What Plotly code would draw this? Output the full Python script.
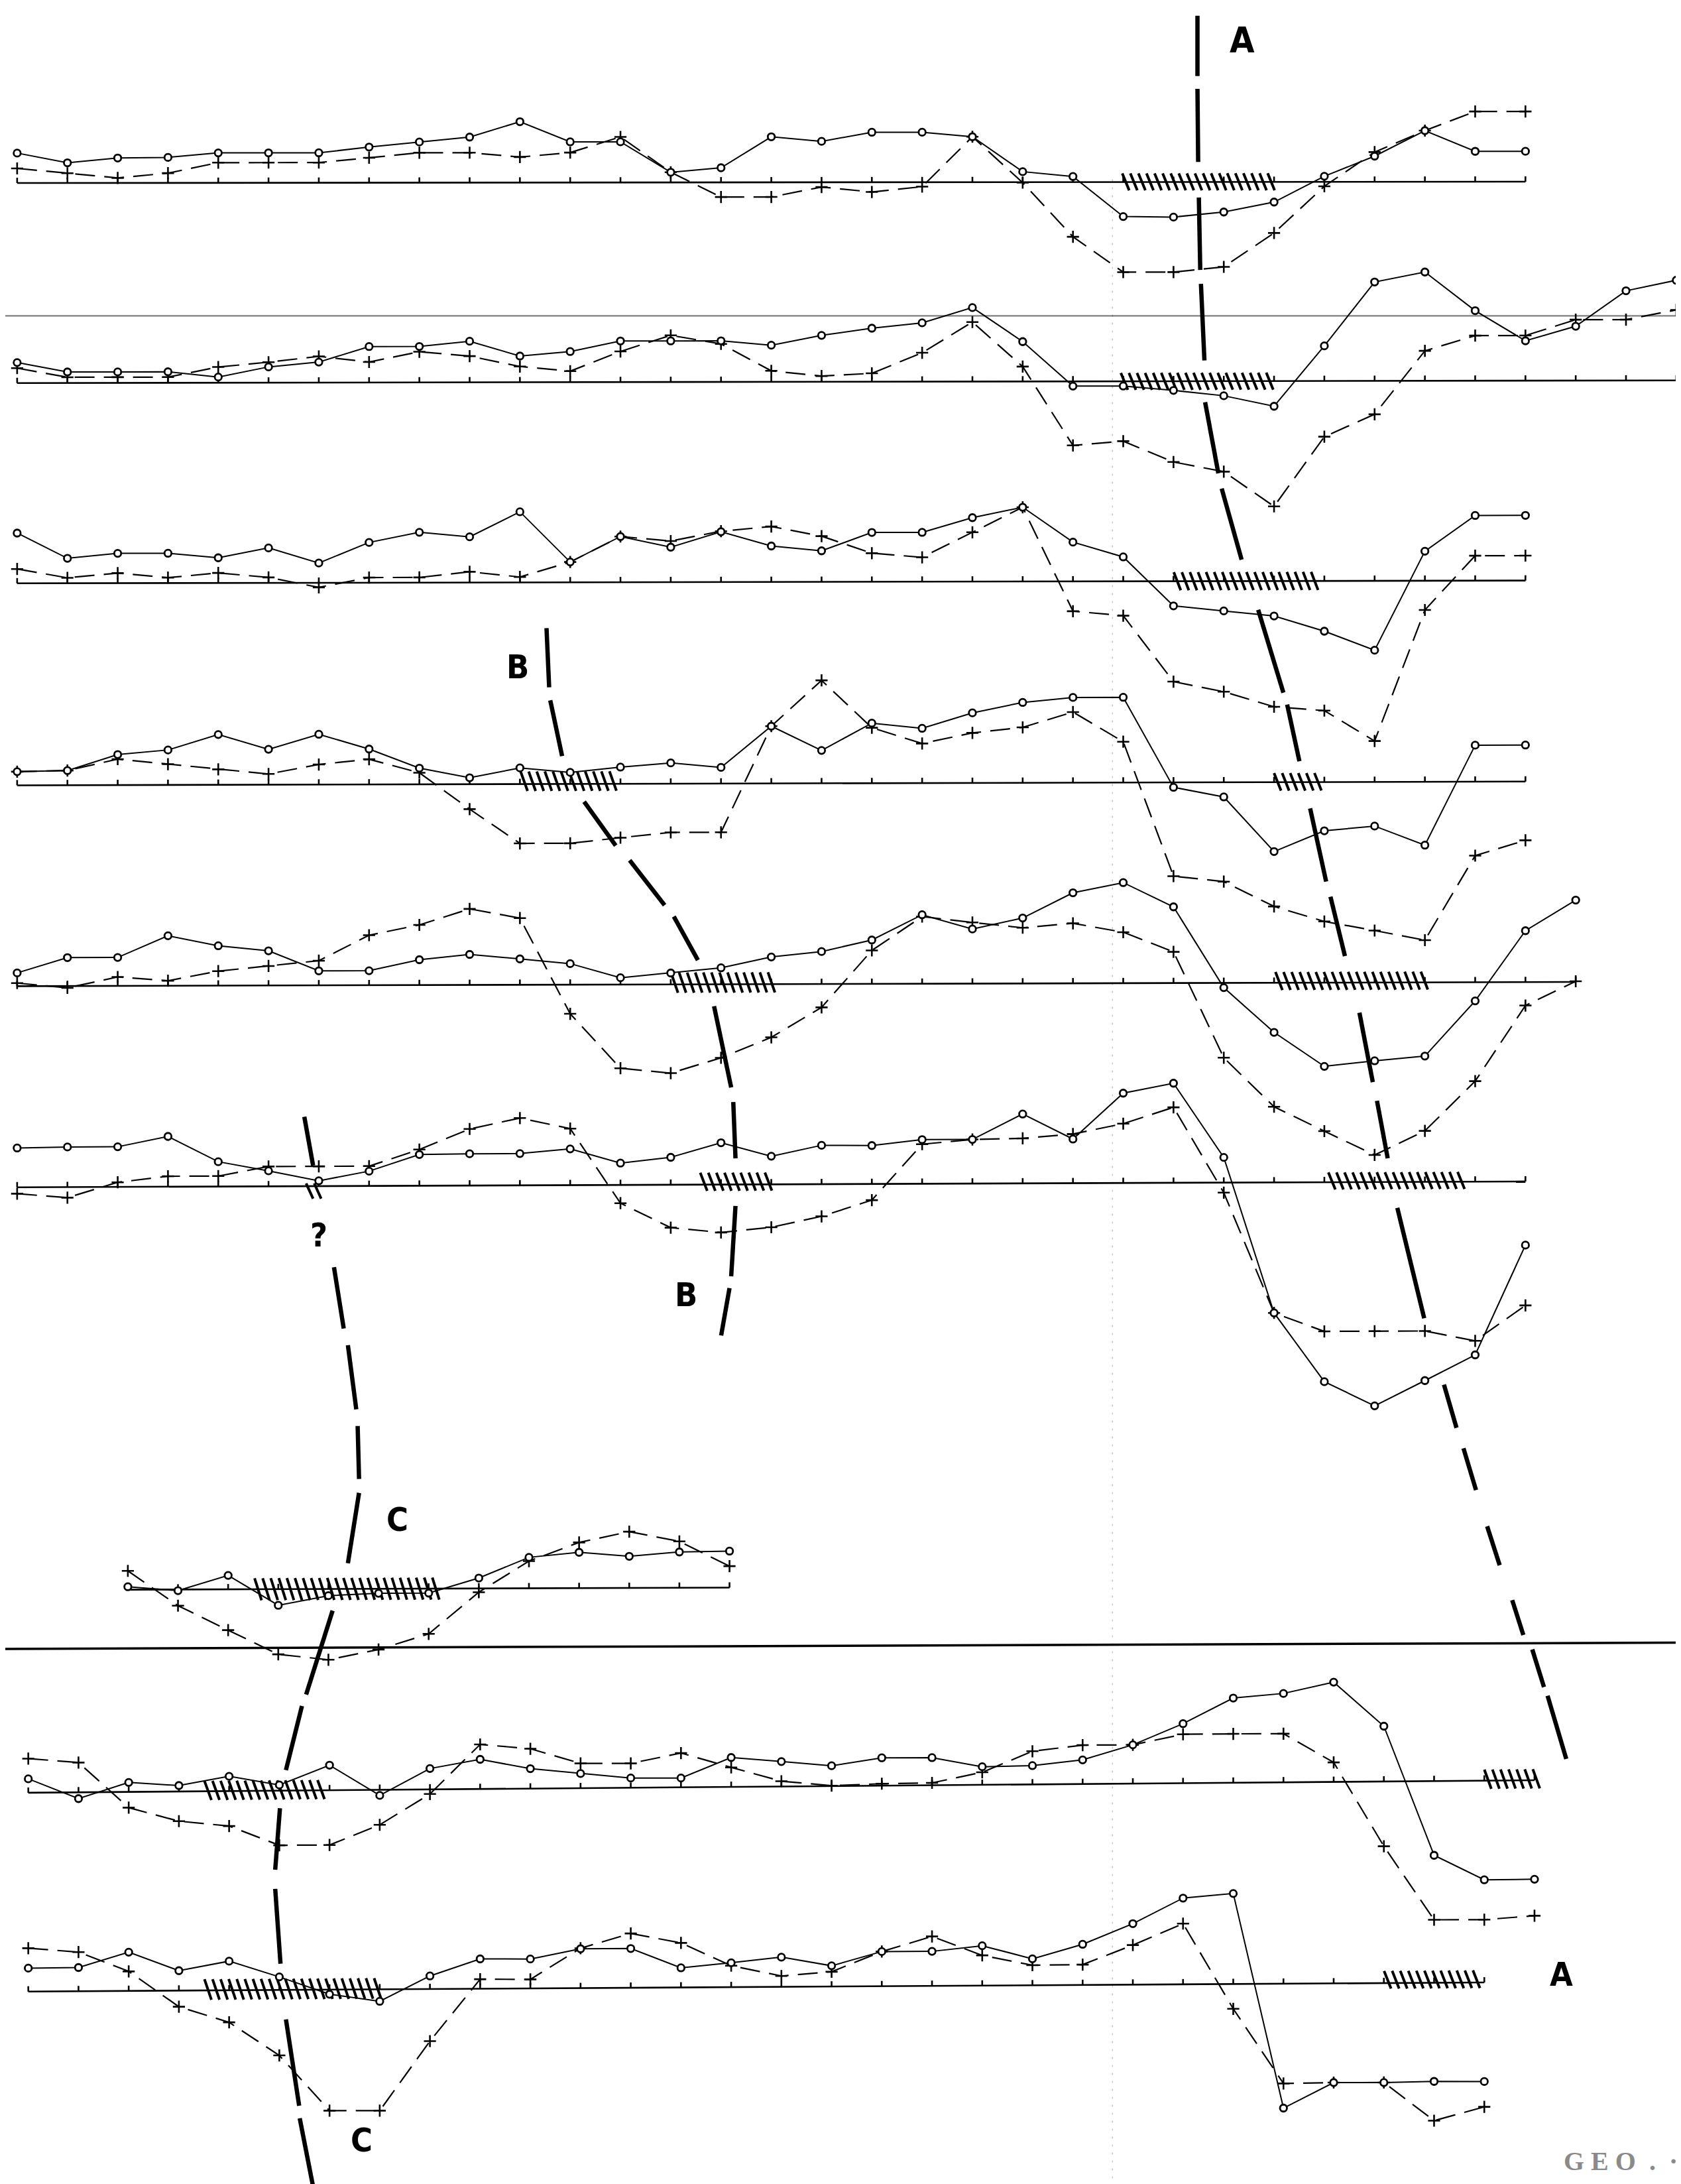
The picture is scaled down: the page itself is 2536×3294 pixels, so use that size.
import plotly.graph_objects as go

# ---------------- profile values (deviation above each profile's baseline, + = up) ----------------
P1_SOLID = [21.5, 14.5, 17.9, 18.3, 21.5, 21.5, 21.5, 25.6, 29.2, 32.7, 43.7, 29.2, 29.2, 7.3, 10.5, 32.7,
            29.4, 35.9, 35.9, 32.6, 7.5, 4.0, -24.8, -25.2, -21.6, -14.5, 4.0, 18.4, 36.7, 21.8, 21.8]
P1_DASH = [10.5, 7.0, 3.6, 7.0, 14.5, 14.5, 14.5, 17.9, 21.5, 21.5, 18.3, 21.5, 32.7, 7.3, -10.5, -10.5,
           -3.4, -7.0, -3.2, 32.6, -0.4, -39.3, -64.7, -64.7, -61.0, -36.7, -3.2, 21.3, 36.7, 50.4, 50.4]

P2_SOLID = [14.7, 7.9, 7.9, 7.9, 4.1, 11.3, 14.7, 25.8, 25.8, 29.5, 18.8, 22.0, 29.5, 29.5, 29.5, 26.3,
            33.3, 38.4, 42.2, 53.1, 28.6, -3.4, -3.4, -6.6, -10.5, -18.1, 25.2, 71.0, 78.1, 50.3, 28.6,
            39.0, 64.4, 71.9]
P2_DASH = [10.7, 4.1, 4.1, 4.1, 11.3, 14.7, 18.8, 14.7, 22.0, 18.8, 11.3, 7.9, 22.0, 33.5, 27.3, 7.9,
           4.1, 6.0, 20.7, 42.7, 10.7, -46.0, -43.0, -58.0, -65.0, -90.0, -40.0, -24.0, 21.5, 32.4, 32.4,
           43.7, 43.7, 50.6]

P3_SOLID = [36.1, 17.9, 21.4, 21.4, 18.1, 25.1, 14.2, 28.9, 36.1, 32.8, 50.7, 14.6, 32.8, 25.1, 36.1, 25.8,
            22.3, 35.4, 35.4, 45.9, 53.3, 28.2, 17.5, -17.7, -21.4, -25.1, -36.1, -49.8, 21.2, 46.8, 46.8]
P3_DASH = [10.3, 3.9, 7.2, 3.9, 7.2, 3.9, -3.3, 3.7, 3.7, 7.7, 3.9, 14.6, 32.8, 29.5, 36.5, 39.8,
           32.8, 20.5, 17.5, 35.4, 53.3, -21.4, -24.7, -72.1, -79.4, -90.3, -93.1, -115.0, -21.0, 17.9, 17.9]

P4_SOLID = [9.8, 10.5, 21.9, 25.1, 36.1, 25.4, 36.1, 25.4, 11.6, 4.6, 11.6, 8.3, 12.0, 14.9, 11.6, 41.1,
            23.6, 43.1, 39.3, 50.3, 57.7, 61.2, 61.2, -3.5, -10.5, -49.8, -35.0, -31.7, -45.5, 26.2, 26.2]
P4_DASH = [9.8, 10.5, 18.6, 14.9, 11.1, 7.7, 14.4, 18.1, 8.3, -17.9, -42.6, -42.6, -38.7, -35.0, -35.0, 41.1,
           73.9, 39.8, 28.4, 35.9, 39.8, 50.7, 29.3, -67.3, -71.3, -89.2, -100.1, -106.7, -113.7, -53.1, -42.2]

P5_SOLID = [9.5, 20.4, 20.4, 35.9, 28.6, 24.9, 10.4, 10.4, 18.2, 21.9, 18.6, 15.1, 4.9, 8.2, 11.8, 19.5,
            23.3, 31.5, 49.5, 39.2, 47.0, 65.0, 72.2, 54.7, -3.4, -35.6, -60.1, -56.2, -52.9, -13.4, 36.9, 58.8]
P5_DASH = [2.2, -1.3, 6.4, 3.6, 10.4, 14.0, 17.7, 35.9, 43.2, 54.6, 47.9, -20.9, -60.1, -63.7, -52.8, -38.2,
           -16.8, 24.0, 48.2, 43.9, 40.0, 43.1, 36.6, 22.4, -53.7, -89.0, -106.6, -123.8, -106.6, -71.0, -16.8, 0.5]

P6_SOLID = [28.2, 28.8, 28.8, 36.1, 17.8, 11.1, 3.8, 10.6, 22.4, 22.8, 22.8, 26.0, 15.7, 19.7, 30.0, 20.2,
            27.9, 27.6, 31.7, 31.7, 49.8, 31.7, 64.5, 71.5, 18.1, -93.7, -143.2, -160.7, -142.7, -124.4, -45.7]
P6_DASH = [-4.6, -7.6, 3.3, 7.5, 7.5, 14.2, 14.2, 14.2, 26.0, 40.6, 48.3, 40.6, -13.1, -30.8, -34.4, -30.8,
           -23.1, -11.6, 28.4, 31.7, 32.3, 35.3, 42.6, 54.2, -7.2, -93.7, -107.1, -107.1, -107.1, -114.3, -89.0]

P7_SOLID = [2.1, -0.8, 10.0, -11.6, -4.8, -3.2, -3.2, 7.5, 22.2, 25.7, 22.7, 25.7, 26.2]
P7_DASH = [13.5, -11.6, -29.3, -46.8, -50.8, -43.6, -32.5, -2.7, 19.5, 32.8, 40.4, 33.3, 15.4]

P8_SOLID = [10.0, -4.5, 6.8, 4.3, 10.6, 4.1, 18.0, -4.0, 15.0, 21.3, 14.3, 10.5, 7.0, 6.7, 21.1, 17.9,
            14.6, 20.0, 19.8, 13.0, 13.5, 17.3, 27.8, 42.7, 60.8, 63.8, 71.6, 39.7, -53.3, -71.2, -71.1]
P8_DASH = [24.5, 21.4, -11.3, -21.3, -25.1, -39.2, -39.3, -25.1, -3.3, 32.0, 28.6, 17.8, 17.5, 24.6, 14.0, 3.8,
           0.3, 1.4, 1.7, 9.0, 23.8, 27.9, 27.8, 35.1, 35.1, 34.9, 14.0, -46.5, -99.6, -99.8, -97.3]

P9_SOLID = [16.8, 17.0, 27.8, 14.3, 20.9, 9.4, -3.3, -8.6, 9.4, 21.4, 21.1, 28.2, 28.2, 14.1, 17.5, 21.3,
            14.9, 24.9, 24.8, 28.6, 19.0, 29.2, 43.8, 61.9, 65.0, -89.3, -71.2, -71.4, -70.8, -71.1]
P9_DASH = [31.1, 28.1, 14.0, -11.6, -23.0, -47.0, -86.9, -87.1, -37.4, 6.8, 6.5, 28.6, 39.0, 32.0, 15.4, 7.8,
           10.6, 24.9, 35.5, 21.7, 14.4, 14.6, 28.4, 43.6, -17.8, -71.6, -71.2, -71.4, -99.0, -89.3]

SOLID = [P1_SOLID, P2_SOLID, P3_SOLID, P4_SOLID, P5_SOLID, P6_SOLID, P7_SOLID, P8_SOLID, P9_SOLID]
DASHED = [P1_DASH, P2_DASH, P3_DASH, P4_DASH, P5_DASH, P6_DASH, P7_DASH, P8_DASH, P9_DASH]

# ---------------- sheet layout (sheet units: 1207 x 1568) ----------------
ROW_X0 = [8.5, 8.5, 8.5, 8.5, 8.5, 8.5, 88.0, 16.5, 16.5]
ROW_DX = [36.1, 36.1, 36.1, 36.1, 36.1, 36.1, 36.0, 36.05, 36.05]
ROW_BASE = [(127.6, 126.6), (271.2, 269.3), (415.0, 413.0), (560.0, 557.3), (704.2, 701.2),
            (848.6, 844.4), (1137.5, 1136.0), (1283.3, 1274.3), (1426.0, 1419.5)]

# hatched intervals: (row, x start, x end, height above, height below)
HATCH = [(0, 802, 911, 6.2, 6.0), (1, 801, 911, 6.0, 6.2), (2, 839, 946, 6.5, 6.5),
         (3, 370, 443, 9.0, 5.0), (3, 911, 947, 6.5, 6.1), (4, 478, 553, 8.5, 6.0),
         (4, 912, 1021, 7.7, 5.2), (5, 216, 229, 2.0, 9.0), (5, 499, 553, 8.5, 4.5),
         (5, 950, 1050, 7.0, 5.2), (6, 179, 315, 7.9, 7.9), (7, 143, 233, 7.4, 6.3),
         (7, 1062, 1102, 7.9, 5.9), (8, 143, 270, 8.0, 6.7), (8, 990, 1061, 8.7, 4.0)]

# correlation lines (broken heavy dashes): segments (x1, y1, x2, y2)
LINE_A = [(856, 7.5, 856, 50.8), (856, 60, 856.5, 112.5), (857, 138, 858, 190), (858.5, 200, 861, 255),
          (861.5, 285, 871, 336), (873.4, 347, 887.7, 398), (899.6, 434, 917.7, 493.5),
          (920.4, 502, 929.2, 542.7), (936.9, 576.6, 948.4, 629.1), (951.5, 640, 961.9, 682.6),
          (972.3, 723.3, 981.9, 773.1), (984.9, 786.5, 992.6, 827.8), (999.5, 863.4, 1018.8, 942.6),
          (1033, 990.3, 1042, 1021.3), (1047, 1036, 1056, 1066), (1064, 1092, 1073, 1120),
          (1082, 1145, 1090, 1170), (1096.4, 1180.4, 1104.8, 1207.4), (1107.4, 1213.7, 1120.8, 1259)]
LINE_B = [(388.6, 447.2, 390.5, 489.6), (391.3, 499, 399.8, 539), (415.6, 571.8, 438.3, 603.3),
          (448.3, 613.8, 473.4, 646.1), (480, 654.2, 497.3, 685.5), (508.9, 718.6, 521.2, 776.9),
          (522.7, 787.4, 524.3, 827.8), (524.3, 862, 521.2, 912.5), (520, 921, 514, 955)]
LINE_C = [(214.7, 798, 221, 833), (236, 906, 243, 950), (246, 962, 252, 1008), (253, 1020, 254, 1058),
          (254, 1068, 246, 1118.5), (235, 1152.6, 216, 1212.8), (213, 1221, 201.5, 1267),
          (197.2, 1294.4, 193.8, 1338.6), (193.8, 1352.3, 197.6, 1406), (201.5, 1446, 211, 1508),
          (211.4, 1517, 221, 1566)]

LABELS = [("A", 888, 25, 54), ("A", 1117.5, 1414, 50), ("B", 368, 475, 50), ("B", 489, 926, 50),
          ("C", 281.5, 1087, 50), ("C", 256, 1533, 50), ("?", 225, 883, 50)]

W, H = 1207, 1568
TICK = 3.8


def base_y(r, x):
    x0 = ROW_X0[r]
    x1 = ROW_X0[r] + ROW_DX[r] * (len(SOLID[r]) - 1)
    yl, yr = ROW_BASE[r]
    return yl + (yr - yl) * (x - x0) / (x1 - x0)


fig = go.Figure()

# scan artifacts: fold line, crease, faint ruler dots
fig.add_trace(go.Scatter(x=[0, W], y=[223, 223], mode="lines",
                         line=dict(color="rgba(0,0,0,0.5)", width=2.2), hoverinfo="skip"))
fig.add_trace(go.Scatter(x=[0, W], y=[1180, 1175.5], mode="lines",
                         line=dict(color="black", width=3.5), hoverinfo="skip"))
fig.add_trace(go.Scatter(x=[795, 795, None, 1203, 1203], y=[125, 1565, None, 170, 1460], mode="lines",
                         line=dict(color="rgba(0,0,0,0.22)", width=1.5, dash="3px,9px"), hoverinfo="skip"))

# hatching
hx, hy = [], []
for r, xa, xb, up, dn in HATCH:
    s, d = 5.8, 5.0
    xt = xa
    while xt + d <= xb + 0.5:
        yb = base_y(r, xt + d / 2)
        hx += [xt, xt + d, None]
        hy += [yb - up, yb + dn, None]
        xt += s
fig.add_trace(go.Scatter(x=hx, y=hy, mode="lines", line=dict(color="black", width=4), hoverinfo="skip"))

# baselines with station ticks
for r in range(9):
    n = len(SOLID[r])
    xs = [ROW_X0[r] + ROW_DX[r] * i for i in range(n)]
    bx = [xs[0], xs[-1], None]
    by = [base_y(r, xs[0]), base_y(r, xs[-1]), None]
    for x in xs:
        yb = base_y(r, x)
        bx += [x, x, None]
        by += [yb, yb - TICK, None]
    fig.add_trace(go.Scatter(x=bx, y=by, mode="lines", line=dict(color="black", width=2.6),
                             hoverinfo="skip"))

# profiles
for r in range(9):
    n = len(SOLID[r])
    xs = [ROW_X0[r] + ROW_DX[r] * i for i in range(n)]
    yd = [base_y(r, x) - v for x, v in zip(xs, DASHED[r])]
    ys = [base_y(r, x) - v for x, v in zip(xs, SOLID[r])]
    fig.add_trace(go.Scatter(x=xs, y=yd, mode="lines+markers",
                             line=dict(color="black", width=2.2, dash="30px,14px"),
                             marker=dict(symbol="cross-thin-open", size=13,
                                         line=dict(color="black", width=2.6)),
                             hoverinfo="skip"))
    fig.add_trace(go.Scatter(x=xs, y=ys, mode="lines+markers",
                             line=dict(color="black", width=2.0),
                             marker=dict(symbol="circle", size=10.5, color="white",
                                         line=dict(color="black", width=2.8)),
                             hoverinfo="skip"))

# heavy correlation lines
for segs in (LINE_A, LINE_B, LINE_C):
    lx, ly = [], []
    for x1, y1, x2, y2 in segs:
        lx += [x1, x2, None]
        ly += [y1, y2, None]
    fig.add_trace(go.Scatter(x=lx, y=ly, mode="lines", line=dict(color="black", width=6.5),
                             hoverinfo="skip"))

annotations = []
for t, x, y, sz in LABELS:
    annotations.append(dict(x=x, y=y, xref="x", yref="y", text="<b>%s</b>" % t, showarrow=False,
                            font=dict(family="DejaVu Sans Condensed, Liberation Sans Narrow, Liberation Sans",
                                      size=sz, color="black"),
                            xanchor="center", yanchor="middle"))
annotations.append(dict(x=1160, y=1548, xref="x", yref="y", text="<b>G E O  .  ·</b>", showarrow=False,
                        font=dict(family="Liberation Serif", size=40, color="#8a8a8a"),
                        xanchor="center", yanchor="middle"))

fig.update_layout(
    width=2536, height=3294,
    margin=dict(l=0, r=0, t=0, b=0),
    paper_bgcolor="white", plot_bgcolor="white",
    showlegend=False,
    xaxis=dict(range=[0, W], visible=False, fixedrange=True),
    yaxis=dict(range=[H, 0], visible=False, fixedrange=True),
    annotations=annotations,
)

fig.write_html("out.html")
